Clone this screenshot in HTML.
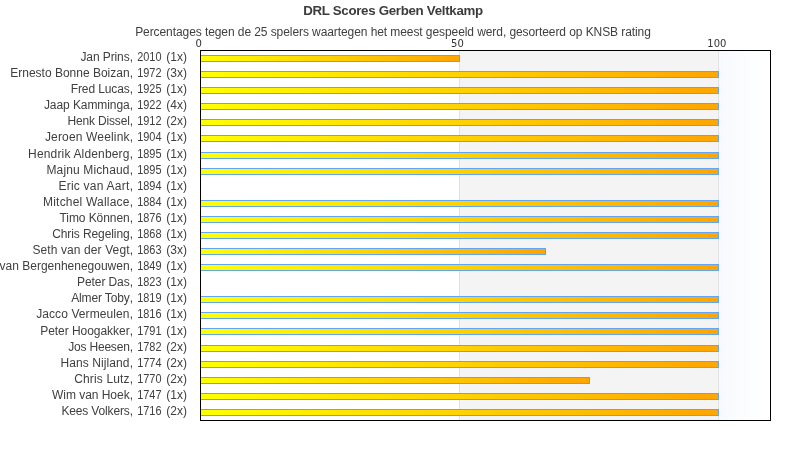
<!DOCTYPE html>
<html lang="nl">
<head>
<meta charset="utf-8">
<title>DRL Scores Gerben Veltkamp</title>
<style>
html,body{margin:0;padding:0;background:#fff;}
body{width:790px;height:450px;position:relative;overflow:hidden;font-family:"Liberation Sans",sans-serif;color:#404040;}
#chart{position:absolute;left:0;top:0;width:790px;height:450px;overflow:hidden;background:#fff;}
.title{position:absolute;left:0;width:786px;top:3px;text-align:center;font-weight:bold;font-size:13.3px;line-height:16px;white-space:nowrap;letter-spacing:-0.3px;color:#3c3c3c;}
.sub{position:absolute;left:0;width:786px;top:25px;text-align:center;font-size:12px;line-height:14px;white-space:nowrap;letter-spacing:-0.08px;}
.plot{position:absolute;left:200px;top:50px;width:571px;height:371px;box-sizing:border-box;border:1px solid #000;background:#fff;overflow:hidden;}
.band{position:absolute;top:0;height:369px;}
.b2{left:258px;width:259px;background:#f4f4f4;border-left:1px solid #e2e2e2;box-sizing:border-box;}
.b3{left:517px;width:52px;background:linear-gradient(to right,#f6f9fe,#fdfeff 65%,#ffffff);border-left:1px solid #e2e2e2;box-sizing:border-box;}
.bar{position:absolute;left:200px;height:7px;box-sizing:border-box;border:1px solid #62a5f6;background:linear-gradient(to right,#ffff00,#ffa500);}
.lab{position:absolute;right:603px;height:16px;line-height:16px;font-size:12px;white-space:nowrap;text-align:right;}
.lab .d{display:inline-block;font-weight:normal;transform:scaleX(0.91);transform-origin:50% 50%;}
.tick{position:absolute;top:38px;width:40px;height:12px;line-height:12px;font-size:10px;text-align:center;font-family:"DejaVu Sans","Liberation Sans",sans-serif;color:#333;}
.axis{position:absolute;left:200px;top:50px;width:1px;height:371px;background:#000;}
</style>
</head>
<body>
<div id="chart">
<div class="title">DRL Scores Gerben Veltkamp</div>
<div class="sub">Percentages tegen de 25 spelers waartegen het meest gespeeld werd, gesorteerd op KNSB rating</div>
<div class="tick" style="left:178.6px">0</div>
<div class="tick" style="left:437.4px">50</div>
<div class="tick" style="left:696.9px">100</div>
<div class="plot"><div class="band b2"></div><div class="band b3"></div></div>

<div class="bar" style="top:55px;width:260px"></div>
<div class="bar" style="top:71px;width:519px"></div>
<div class="bar" style="top:87px;width:519px"></div>
<div class="bar" style="top:103px;width:519px"></div>
<div class="bar" style="top:119px;width:519px"></div>
<div class="bar" style="top:135px;width:519px"></div>
<div class="bar" style="top:152px;width:519px"></div>
<div class="bar" style="top:168px;width:519px"></div>
<div class="bar" style="top:200px;width:519px"></div>
<div class="bar" style="top:216px;width:519px"></div>
<div class="bar" style="top:232px;width:519px"></div>
<div class="bar" style="top:248px;width:346px"></div>
<div class="bar" style="top:264px;width:519px"></div>
<div class="bar" style="top:296px;width:519px"></div>
<div class="bar" style="top:312px;width:519px"></div>
<div class="bar" style="top:328px;width:519px"></div>
<div class="bar" style="top:345px;width:519px"></div>
<div class="bar" style="top:361px;width:519px"></div>
<div class="bar" style="top:377px;width:390px"></div>
<div class="bar" style="top:393px;width:519px"></div>
<div class="bar" style="top:409px;width:519px"></div>
<div class="lab" id="l0" style="top:49px"><span style="letter-spacing:-0.089px">Jan Prins</span>, <b class="d">2010</b> (1x)</div>
<div class="lab" id="l1" style="top:65px"><span style="letter-spacing:0.000px">Ernesto Bonne Boizan</span>, <b class="d">1972</b> (3x)</div>
<div class="lab" id="l2" style="top:81px"><span style="letter-spacing:-0.120px">Fred Lucas</span>, <b class="d">1925</b> (1x)</div>
<div class="lab" id="l3" style="top:97px"><span style="letter-spacing:-0.077px">Jaap Kamminga</span>, <b class="d">1922</b> (4x)</div>
<div class="lab" id="l4" style="top:113px"><span style="letter-spacing:-0.182px">Henk Dissel</span>, <b class="d">1912</b> (2x)</div>
<div class="lab" id="l5" style="top:129px"><span style="letter-spacing:0.157px">Jeroen Weelink</span>, <b class="d">1904</b> (1x)</div>
<div class="lab" id="l6" style="top:146px"><span style="letter-spacing:0.165px">Hendrik Aldenberg</span>, <b class="d">1895</b> (1x)</div>
<div class="lab" id="l7" style="top:162px"><span style="letter-spacing:0.138px">Majnu Michaud</span>, <b class="d">1895</b> (1x)</div>
<div class="lab" id="l8" style="top:178px"><span style="letter-spacing:0.246px">Eric van Aart</span>, <b class="d">1894</b> (1x)</div>
<div class="lab" id="l9" style="top:194px"><span style="letter-spacing:0.200px">Mitchel Wallace</span>, <b class="d">1884</b> (1x)</div>
<div class="lab" id="l10" style="top:210px"><span style="letter-spacing:-0.073px">Timo Können</span>, <b class="d">1876</b> (1x)</div>
<div class="lab" id="l11" style="top:226px"><span style="letter-spacing:-0.086px">Chris Regeling</span>, <b class="d">1868</b> (1x)</div>
<div class="lab" id="l12" style="top:242px"><span style="letter-spacing:0.106px">Seth van der Vegt</span>, <b class="d">1863</b> (3x)</div>
<div class="lab" id="l13" style="top:258px"><span style="letter-spacing:-0.004px">van Bergenhenegouwen</span>, <b class="d">1849</b> (1x)</div>
<div class="lab" id="l14" style="top:274px"><span style="letter-spacing:-0.089px">Peter Das</span>, <b class="d">1823</b> (1x)</div>
<div class="lab" id="l15" style="top:290px"><span style="letter-spacing:-0.140px">Almer Toby</span>, <b class="d">1819</b> (1x)</div>
<div class="lab" id="l16" style="top:306px"><span style="letter-spacing:0.093px">Jacco Vermeulen</span>, <b class="d">1816</b> (1x)</div>
<div class="lab" id="l17" style="top:323px"><span style="letter-spacing:-0.040px">Peter Hoogakker</span>, <b class="d">1791</b> (1x)</div>
<div class="lab" id="l18" style="top:339px"><span style="letter-spacing:-0.200px">Jos Heesen</span>, <b class="d">1782</b> (2x)</div>
<div class="lab" id="l19" style="top:355px"><span style="letter-spacing:0.100px">Hans Nijland</span>, <b class="d">1774</b> (2x)</div>
<div class="lab" id="l20" style="top:371px"><span style="letter-spacing:0.140px">Chris Lutz</span>, <b class="d">1770</b> (2x)</div>
<div class="lab" id="l21" style="top:387px"><span style="letter-spacing:-0.033px">Wim van Hoek</span>, <b class="d">1747</b> (1x)</div>
<div class="lab" id="l22" style="top:403px"><span style="letter-spacing:-0.150px">Kees Volkers</span>, <b class="d">1716</b> (2x)</div>
<div class="axis"></div>
</div>
</body>
</html>
